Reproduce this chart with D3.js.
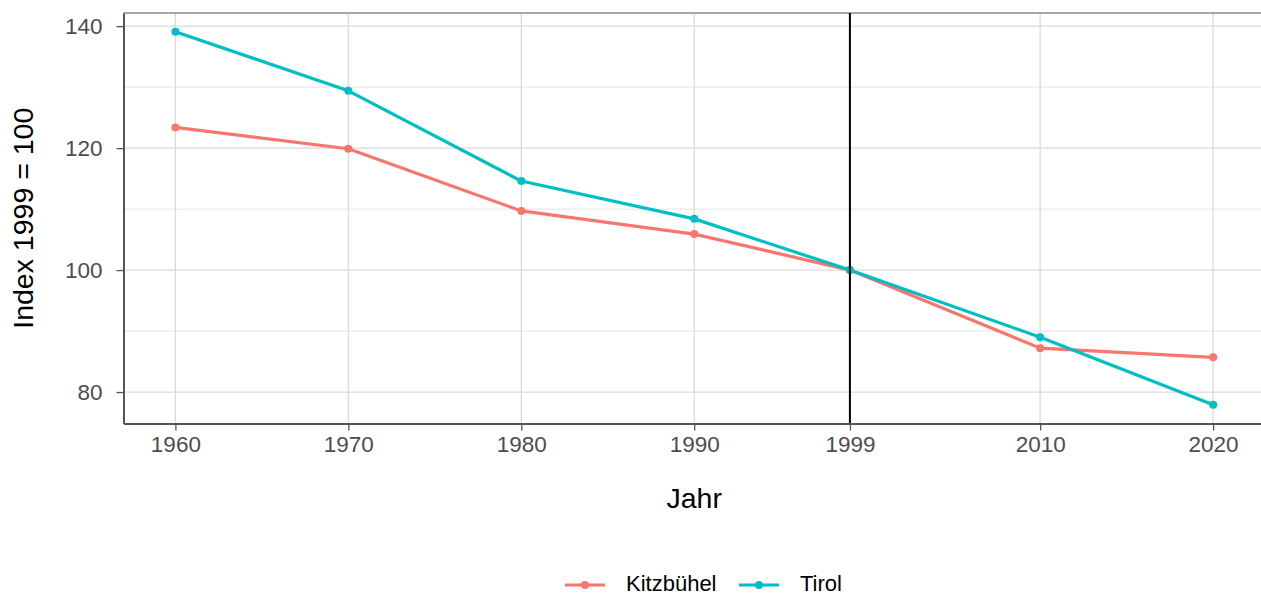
<!DOCTYPE html>
<html>
<head>
<meta charset="utf-8">
<script src="https://cdn.jsdelivr.net/npm/d3@7"></script>
<style>
  html, body { margin: 0; padding: 0; background: #fff; }
  svg { display: block; }
  text { font-family: "Liberation Sans", Arial, sans-serif; }
</style>
</head>
<body>
<svg id="chart" width="1261" height="596"></svg>
<script>
// ---- data ----
const years = [1960, 1970, 1980, 1990, 1999, 2010, 2020];
const kitzbuehel = [123.4, 119.9, 109.7, 105.9, 100, 87.2, 85.7];
const tirol = [139.1, 129.4, 114.6, 108.4, 100, 89.0, 77.9];
const seriesNames = ["Kitzbühel", "Tirol"];
const seriesColors = ["#F8766D", "#00BFC4"];
const yTicks = [80, 100, 120, 140];
const yMinor = [90, 110, 130];
const refYear = 1999;
const xTitle = "Jahr";
const yTitle = "Index 1999 = 100";

const series = [
  { name: seriesNames[0], color: seriesColors[0], values: kitzbuehel },
  { name: seriesNames[1], color: seriesColors[1], values: tirol }
];

// ---- layout ----
const panel = { left: 123.5, top: 13, right: 1265, bottom: 423.5 };
const svg = d3.select("#chart");

const allVals = kitzbuehel.concat(tirol);
const yMinV = d3.min(allVals), yMaxV = d3.max(allVals);
const yPad = (yMaxV - yMinV) * 0.05;
const xMinV = d3.min(years), xMaxV = d3.max(years);
const xPad = (xMaxV - xMinV) * 0.05;

const x = d3.scaleLinear().domain([xMinV - xPad, xMaxV + xPad]).range([panel.left, panel.right]);
const y = d3.scaleLinear().domain([yMinV - yPad, yMaxV + yPad]).range([panel.bottom, panel.top]);

const g = svg.append("g");

// grid
g.append("g").selectAll("line").data(yMinor).join("line")
  .attr("x1", panel.left).attr("x2", panel.right)
  .attr("y1", d => y(d)).attr("y2", d => y(d))
  .attr("stroke", "#e3e3e3").attr("stroke-width", 1);
g.append("g").selectAll("line").data(yTicks).join("line")
  .attr("x1", panel.left).attr("x2", panel.right)
  .attr("y1", d => y(d)).attr("y2", d => y(d))
  .attr("stroke", "#dadada").attr("stroke-width", 1.3);
g.append("g").selectAll("line").data(years).join("line")
  .attr("y1", panel.top).attr("y2", panel.bottom)
  .attr("x1", d => x(d)).attr("x2", d => x(d))
  .attr("stroke", "#dadada").attr("stroke-width", 1.3);

// top border
g.append("line").attr("x1", panel.left).attr("x2", panel.right)
  .attr("y1", panel.top).attr("y2", panel.top)
  .attr("stroke", "#8a8a8a").attr("stroke-width", 1.5);

// lines & points
const line = d3.line().x((d, i) => x(years[i])).y(d => y(d));
series.forEach(s => {
  g.append("path").datum(s.values)
    .attr("d", line).attr("fill", "none")
    .attr("stroke", s.color).attr("stroke-width", 3.2)
    .attr("stroke-linejoin", "round");
  g.append("g").selectAll("circle").data(s.values).join("circle")
    .attr("cx", (d, i) => x(years[i])).attr("cy", d => y(d))
    .attr("r", 4).attr("fill", s.color);
});

// reference line
g.append("line").attr("x1", x(refYear)).attr("x2", x(refYear))
  .attr("y1", panel.top).attr("y2", panel.bottom)
  .attr("stroke", "#000").attr("stroke-width", 2);

// axes
const xAxis = d3.axisBottom(x).tickValues(years).tickFormat(d3.format("d"))
  .tickSizeInner(7).tickSizeOuter(0).tickPadding(6);
const xg = svg.append("g").attr("transform", `translate(0,${panel.bottom})`).call(xAxis);
xg.select(".domain").attr("stroke", "#555").attr("stroke-width", 2);
xg.selectAll(".tick line").attr("stroke", "#555").attr("stroke-width", 1.3);
xg.selectAll(".tick text").attr("fill", "#4d4d4d").style("font-size", "22.5px")
  .style("font-family", "'Liberation Sans', Arial, sans-serif");

const yAxis = d3.axisLeft(y).tickValues(yTicks)
  .tickSizeInner(7).tickSizeOuter(0).tickPadding(14);
const yg = svg.append("g").attr("transform", `translate(${panel.left},0)`).call(yAxis);
yg.select(".domain").attr("stroke", "#555").attr("stroke-width", 2);
yg.selectAll(".tick line").attr("stroke", "#555").attr("stroke-width", 1.3);
yg.selectAll(".tick text").attr("fill", "#4d4d4d").style("font-size", "22.5px")
  .style("font-family", "'Liberation Sans', Arial, sans-serif");

// titles
svg.append("text").attr("x", (panel.left + panel.right) / 2).attr("y", 508)
  .attr("text-anchor", "middle").style("font-size", "28.5px").attr("fill", "#000")
  .text(xTitle);
svg.append("text")
  .attr("transform", `translate(33,${(panel.top + panel.bottom) / 2}) rotate(-90)`)
  .attr("text-anchor", "middle").style("font-size", "28.5px").attr("fill", "#000")
  .text(yTitle);

// legend
const legendItems = [
  { name: seriesNames[0], color: seriesColors[0], x0: 565 },
  { name: seriesNames[1], color: seriesColors[1], x0: 739 }
];
const ly = 585;
const lg = svg.append("g");
legendItems.forEach(it => {
  lg.append("line").attr("x1", it.x0).attr("x2", it.x0 + 40)
    .attr("y1", ly).attr("y2", ly).attr("stroke", it.color).attr("stroke-width", 3);
  lg.append("circle").attr("cx", it.x0 + 20).attr("cy", ly).attr("r", 4).attr("fill", it.color);
  lg.append("text").attr("x", it.x0 + 61).attr("y", ly + 6)
    .style("font-size", "22px").attr("fill", "#000").text(it.name);
});
</script>
</body>
</html>
